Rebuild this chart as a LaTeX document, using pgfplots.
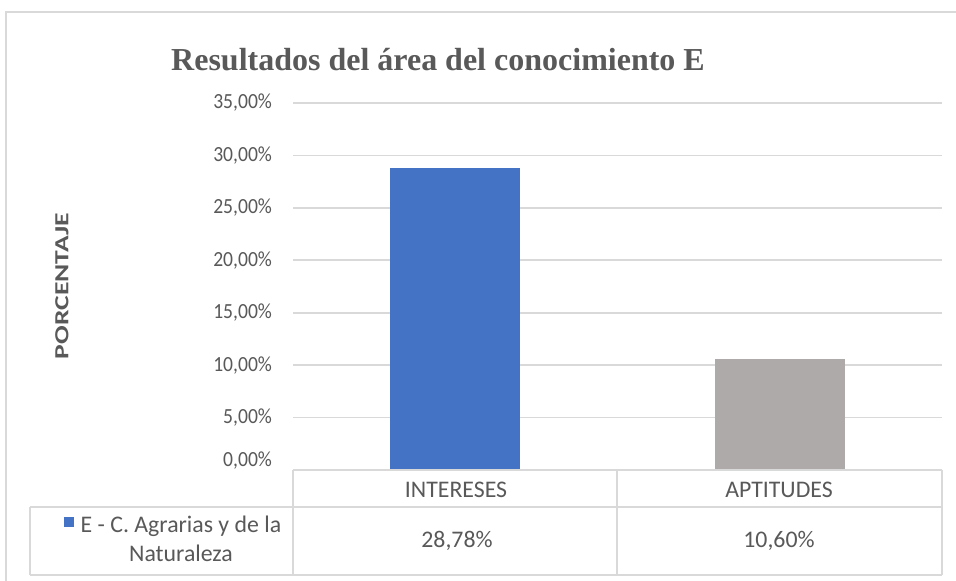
\documentclass[border=0pt]{standalone}
\usepackage{pgfplots}
\pgfplotsset{compat=1.18}
\usepackage{fontspec}
\setmainfont{Carlito}
\newfontfamily\titlefont{Liberation Serif}
\definecolor{barblue}{HTML}{4472C4}
\definecolor{bargray}{HTML}{AEAAAA}
\definecolor{txt}{HTML}{595959}
\definecolor{gridc}{HTML}{D9D9D9}

\begin{document}
\begin{tikzpicture}[x=0.5pt,y=0.5pt]
% page = 956 x 581 px, 1 px = 0.5pt
\path[use as bounding box, fill=white] (0,0) rectangle (956,581);
\draw[gridc, line width=0.8pt] (6,0) -- (6,569) -- (956,569);

\begin{axis}[
  at={(146.5pt,55.5pt)}, anchor=south west,
  scale only axis, width=324.5pt, height=183.5pt,
  ybar, bar width=65pt,
  xmin=-0.5, xmax=1.5, ymin=0, ymax=35,
  xtick=\empty, ytick={5,10,...,35},
  extra y ticks={0},
  extra y tick style={grid=none, yticklabel style={yshift=4.5pt}},
  ymajorgrids, grid style={gridc, line width=0.8pt},
  axis line style={draw=none}, tick style={draw=none},
  yticklabel style={font=\fontsize{9.8}{11}\selectfont, color=txt, xshift=-7pt,
    /pgf/number format/assume math mode=true},
  yticklabel={\scalebox{1}[1.1]{\pgfmathprintnumber[fixed,fixed zerofill,precision=2,use comma]{\tick}\%}},
  clip=false,
]
\addplot[fill=barblue, draw=none, bar shift=0pt] coordinates {(0,28.78)};
\addplot[fill=bargray, draw=none, bar shift=0pt] coordinates {(1,10.60)};
\end{axis}

% data table
\begin{scope}[gridc, line width=0.8pt]
\draw (293,111) -- (942,111);
\draw (30,74) -- (942,74);
\draw (30,6) -- (942,6);
\draw (293,111) -- (293,6);
\draw (617,111) -- (617,6);
\draw (942,111) -- (942,6);
\draw (30,74) -- (30,6);
\end{scope}
\begin{scope}[font=\fontsize{11.9}{14.5}\selectfont, text=txt]
\node at (456,91) {INTERESES};
\node at (779,91) {APTITUDES};
\node at (457,40) {28,78\%};
\node at (779,40) {10,60\%};
\fill[barblue] (64,54) rectangle (74,64);
\node[align=center] at (181,42) {E - C. Agrarias y de la\\Naturaleza};
\end{scope}

% titles
\node[text=txt, font=\titlefont\bfseries\fontsize{16}{18}\selectfont] at (438,521)
  {Resultados del área del conocimiento E};
\node[text=txt, font=\bfseries\fontsize{10}{12}\selectfont, rotate=90] at (62,295)
  {\scalebox{1.38}[1]{PORCENTAJE}};
\end{tikzpicture}
\end{document}
